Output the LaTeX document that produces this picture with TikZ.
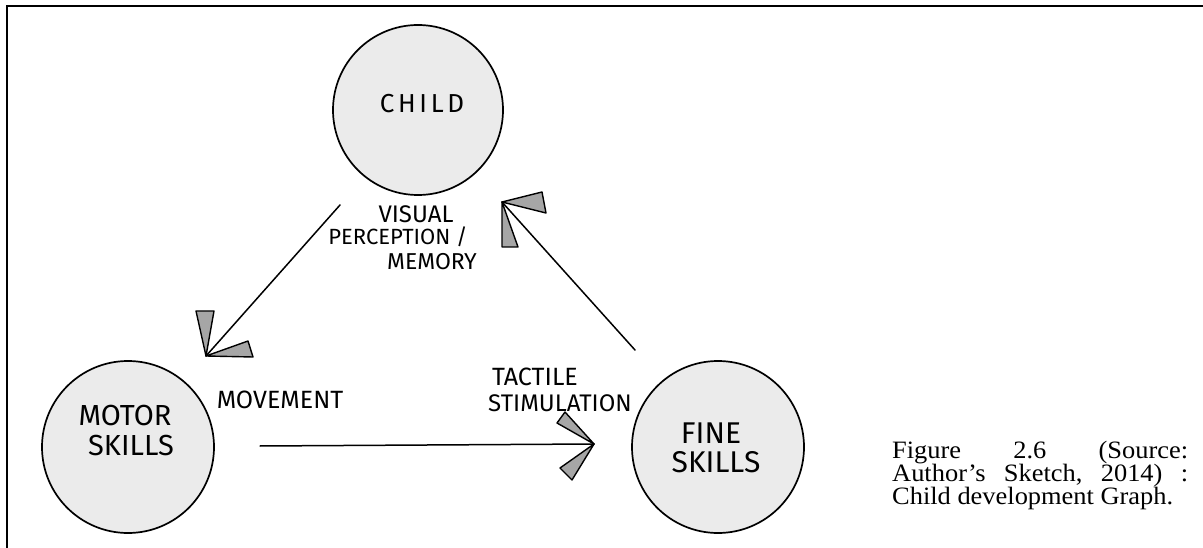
\documentclass[tikz,border=0pt]{standalone}
\usepackage{fontspec}
\setmainfont{Liberation Serif}
\newfontfamily\handfont{Fira Sans}
\newlength\capw
\newcommand\capsize{\fontsize{25}{25}\selectfont}
\begin{document}
% caption glyphs are widened so the last line runs 281pt
\settowidth\capw{\capsize Child development Graph.}%
\pgfmathsetmacro\capk{281/\capw}%
\pgfmathsetmacro\capinner{296/\capk}%
\begin{tikzpicture}[x=1pt,y=-1pt,
  blob/.style={circle,draw=black,line width=1.7pt,fill=black!8,
    minimum size=#1,inner sep=0pt},
  tag/.style={inner sep=0pt,anchor=base,
    font=\handfont\fontsize{#1}{#1}\selectfont},
  link/.style={line width=1.5pt,line cap=round},
  barb/.style={draw=black,fill=black!35,line width=1.4pt,line join=round},
  capline/.style={inner sep=0pt,anchor=base west,font=\capsize},
  frame/.style={line width=2.2pt}]
% page and its open frame
\fill[white] (0,0) rectangle (1203,548);
\useasboundingbox (0,0) rectangle (1203,548);
\draw[frame] (7,548) -- (7,6) -- (1203,6);

% the three circles
\node[blob=170pt] (child) at (418,110) {};
\node[blob=172pt] (motor) at (128,447) {};
\node[blob=172pt] (fine)  at (718,447) {};

% circle labels
\node[tag=26] (childtxt) at (422,113) {\addfontfeatures{LetterSpace=14}CHILD};
\node[tag=29] (motortxt) at (125,425) {MOTOR};
\node[tag=29] (motortxtb) at (131,455) {SKILLS};
\node[tag=30] (finetxt) at (711,443) {FINE};
\node[tag=30] (finetxtb) at (716,472) {SKILLS};

% connector end points
\coordinate (s1) at (340,205);
\coordinate (t1) at (206,356);
\coordinate (s2) at (260,446);
\coordinate (t2) at (594,444);
\coordinate (s3) at (635,350);
\coordinate (t3) at (502,202);

% child -> motor skills
\draw[link] (s1) -- (t1);
\filldraw[barb] (t1) -- ++(-10,-45) -- ++(18,0) -- cycle;
\filldraw[barb] (t1) -- ++(42,-15) -- ++(5,16) -- cycle;

% motor skills -> fine skills
\draw[link] (s2) -- (t2);
\filldraw[barb] (t2) -- ++(-37,-21) -- ++(8,-11) -- cycle;
\filldraw[barb] (t2) -- ++(-34,24) -- ++(12,12) -- cycle;

% fine skills -> child
\draw[link] (s3) -- (t3);
\filldraw[barb] (t3) -- ++(40,-10) -- ++(4,21) -- cycle;
\filldraw[barb] (t3) -- ++(0,45) -- ++(16,0) -- cycle;

% connector labels
\node[tag=24] (lv1) at (416,223) {VISUAL};
\node[tag=22] (lv2) at (398,245) {PERCEPTION /};
\node[tag=23] (lv3) at (432,270) {MEMORY};
\node[tag=25] (lm) at (280,408) {MOVEMENT};
\node[tag=25] (lt1) at (535,385) {TACTILE};
\node[tag=24] (lt2) at (560,411) {STIMULATION};

% caption, justified to 296pt
\node[capline] (cap1) at (892,458.5) {\scalebox{\capk}[1]{\hbox to \capinner pt{Figure\hfill 2.6\hfill (Source:}}};
\node[capline] (cap2) at (892,481.5) {\scalebox{\capk}[1]{\hbox to \capinner pt{Author’s\hfill Sketch,\hfill 2014)\hfill :}}};
\node[capline] (cap3) at (892,504.5) {\scalebox{\capk}[1]{Child development Graph.}};
\end{tikzpicture}
\end{document}
